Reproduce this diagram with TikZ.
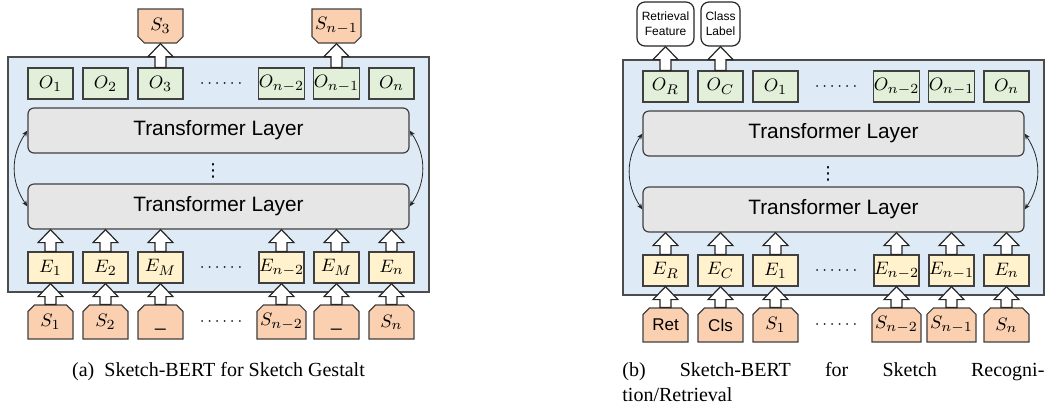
\documentclass[tikz,border=0pt]{standalone}
\usepackage{fontspec}
\setmainfont{Liberation Serif}
\setsansfont{Liberation Sans}
\newfontfamily\djv{DejaVu Sans}
\usetikzlibrary{arrows.meta,shapes.misc,calc}
\definecolor{panelblue}{HTML}{DEEBF7}
\definecolor{ogreen}{HTML}{E2F0D9}
\definecolor{eyellow}{HTML}{FFF2CC}
\definecolor{speach}{HTML}{FAD0B0}
\definecolor{layergray}{HTML}{E6E6E6}
\newcommand\uparr[2]{%
  \filldraw[blockarr] let \p1=(#1.north), \p2=(#2.south) in
    ({\x1-2.75pt},\y1) -- ({\x1-2.75pt},{\y2-6.5pt}) -- ({\x1-6.25pt},{\y2-6.5pt}) --
    (\x1,\y2) -- ({\x1+6.25pt},{\y2-6.5pt}) -- ({\x1+2.75pt},{\y2-6.5pt}) --
    ({\x1+2.75pt},\y1) -- cycle;}
\newcommand\blank{{\vphantom{$S_1$}\sffamily\_}}
\begin{document}
\begin{tikzpicture}[x=0.5pt,y=-0.5pt,
  panel/.style={draw=black!70, fill=panelblue, line width=0.6pt, minimum width=210.5pt, minimum height=117.5pt, inner sep=0pt},
  tok/.style={draw=black!75, line width=0.6pt, minimum width=22.5pt, minimum height=15.5pt, inner sep=0pt, font=\fontsize{9.5}{11}\selectfont},
  obox/.style={tok, fill=ogreen},
  ebox/.style={tok, fill=eyellow},
  sbox/.style={tok, fill=speach, chamfered rectangle, chamfered rectangle corners={north west,north east}, chamfered rectangle sep=1.6pt, minimum height=17pt},
  soutbox/.style={sbox, chamfered rectangle corners={south west,south east}},
  layerbox/.style={draw=black!75, fill=layergray, line width=0.6pt, rounded corners=3pt, minimum width=190.5pt, minimum height=22.5pt, inner sep=0pt, font=\sffamily\fontsize{10.4}{12}\selectfont},
  outbox/.style={draw=black!85, fill=white, line width=0.6pt, rounded corners=4pt, minimum height=22pt, inner sep=0pt, align=center, font=\sffamily\fontsize{6}{7.5}\selectfont},
  blockarr/.style={draw=black!85, fill=white, line width=0.6pt},
  sidearr/.style={draw=black!85, line width=0.4pt, {Stealth[length=3pt,width=2.4pt]}-{Stealth[length=3pt,width=2.4pt]}},
  hdots/.style={font=\fontsize{8}{8}\selectfont, inner sep=0pt},
  vdotsn/.style={font=\djv\fontsize{9}{9}\selectfont, inner sep=0pt},
  captxt/.style={font=\fontsize{10}{12.5}\selectfont, inner sep=0pt}
]
\useasboundingbox (0,0) rectangle (1051,404);

% ---------------- panel (a) ----------------
\node[panel] (PA) at (218.5,174.5) {};
\node[obox] (aO1) at (50.5,83.5) {$O_1$};
\node[obox] (aO2) at (105.5,83.5) {$O_2$};
\node[obox] (aO3) at (160.5,83.5) {$O_3$};
\node[obox] (aOn2) at (281.5,83.5) {$O_{n-2}$};
\node[obox] (aOn1) at (336.5,83.5) {$O_{n-1}$};
\node[obox] (aOn) at (391.5,83.5) {$O_n$};
\node[hdots] (aOd) at (221,83.5) {$\cdots\cdots$};
\node[layerbox] (aL1) at (218.5,130.5) {Transformer Layer};
\node[layerbox] (aL2) at (218.5,206.5) {Transformer Layer};
\node[vdotsn] (aV) at (213,171) {⋮};
\node[ebox] (aE1) at (50.5,267.5) {$E_1$};
\node[ebox] (aE2) at (105.5,267.5) {$E_2$};
\node[ebox] (aE3) at (160.5,267.5) {$E_M$};
\node[ebox] (aEn2) at (281.5,267.5) {$E_{n-2}$};
\node[ebox] (aEn1) at (336.5,267.5) {$E_M$};
\node[ebox] (aEn) at (391.5,267.5) {$E_n$};
\node[hdots] (aEd) at (221,267.5) {$\cdots\cdots$};
\node[sbox] (aS1) at (50.5,322) {$S_1$};
\node[sbox] (aS2) at (105.5,322) {$S_2$};
\node[sbox] (aS3) at (160.5,322) {\blank};
\node[sbox] (aSn2) at (281.5,322) {$S_{n-2}$};
\node[sbox] (aSn1) at (336.5,322) {\blank};
\node[sbox] (aSn) at (391.5,322) {$S_n$};
\node[hdots] (aSd) at (221,322) {$\cdots\cdots$};
\node[soutbox] (aT3) at (160.5,26) {$S_3$};
\node[soutbox] (aTn1) at (336.5,26) {$S_{n-1}$};
\uparr{aO3}{aT3}
\uparr{aOn1}{aTn1}
\foreach \ee in {aE1,aE2,aE3,aEn2,aEn1,aEn} {\uparr{\ee}{aL2}}
\uparr{aS1}{aE1}
\uparr{aS2}{aE2}
\uparr{aS3}{aE3}
\uparr{aSn2}{aEn2}
\uparr{aSn1}{aEn1}
\uparr{aSn}{aEn}
\draw[sidearr] (aL1.west) .. controls +(-17,25) and +(-17,-25) .. (aL2.west);
\draw[sidearr] (aL1.east) .. controls +(17,25) and +(17,-25) .. (aL2.east);
\node[captxt, anchor=base] (capA) at (218.5,376) {(a)\enspace Sketch-BERT for Sketch Gestalt};

% ---------------- panel (b) ----------------
\begin{scope}[shift={(615,3)}]
\node[panel] (PB) at (218.5,174.5) {};
\node[obox] (bO1) at (50.5,83.5) {$O_R$};
\node[obox] (bO2) at (105.5,83.5) {$O_C$};
\node[obox] (bO3) at (160.5,83.5) {$O_1$};
\node[obox] (bOn2) at (281.5,83.5) {$O_{n-2}$};
\node[obox] (bOn1) at (336.5,83.5) {$O_{n-1}$};
\node[obox] (bOn) at (391.5,83.5) {$O_n$};
\node[hdots] (bOd) at (221,83.5) {$\cdots\cdots$};
\node[layerbox] (bL1) at (218.5,130.5) {Transformer Layer};
\node[layerbox] (bL2) at (218.5,206.5) {Transformer Layer};
\node[vdotsn] (bV) at (213,171) {⋮};
\node[ebox] (bE1) at (50.5,267.5) {$E_R$};
\node[ebox] (bE2) at (105.5,267.5) {$E_C$};
\node[ebox] (bE3) at (160.5,267.5) {$E_1$};
\node[ebox] (bEn2) at (281.5,267.5) {$E_{n-2}$};
\node[ebox] (bEn1) at (336.5,267.5) {$E_{n-1}$};
\node[ebox] (bEn) at (391.5,267.5) {$E_n$};
\node[hdots] (bEd) at (221,267.5) {$\cdots\cdots$};
\node[sbox, font=\sffamily\fontsize{8.5}{10}\selectfont] (bS1) at (50.5,322) {Ret};
\node[sbox, font=\sffamily\fontsize{8.5}{10}\selectfont] (bS2) at (105.5,322) {Cls};
\node[sbox] (bS3) at (160.5,322) {$S_1$};
\node[sbox] (bSn2) at (281.5,322) {$S_{n-2}$};
\node[sbox] (bSn1) at (336.5,322) {$S_{n-1}$};
\node[sbox] (bSn) at (391.5,322) {$S_n$};
\node[hdots] (bSd) at (221,322) {$\cdots\cdots$};
\draw[sidearr] (bL1.west) .. controls +(-17,25) and +(-17,-25) .. (bL2.west);
\draw[sidearr] (bL1.east) .. controls +(17,25) and +(17,-25) .. (bL2.east);
\end{scope}
\node[outbox, minimum width=28.5pt] (bRF) at (665.5,24) {Retrieval\\Feature};
\node[outbox, minimum width=19.5pt] (bCL) at (720.5,24) {Class\\Label};
\uparr{bO1}{bRF}
\uparr{bO2}{bCL}
\foreach \ee in {bE1,bE2,bE3,bEn2,bEn1,bEn} {\uparr{\ee}{bL2}}
\uparr{bS1}{bE1}
\uparr{bS2}{bE2}
\uparr{bS3}{bE3}
\uparr{bSn2}{bEn2}
\uparr{bSn1}{bEn1}
\uparr{bSn}{bEn}
\node[captxt, anchor=base west] (capB1) at (622,376) {\makebox[211pt][s]{(b) Sketch-BERT for Sketch Recogni-}};
\node[captxt, anchor=base west] (capB2) at (622,401) {tion/Retrieval};
\end{tikzpicture}
\end{document}
